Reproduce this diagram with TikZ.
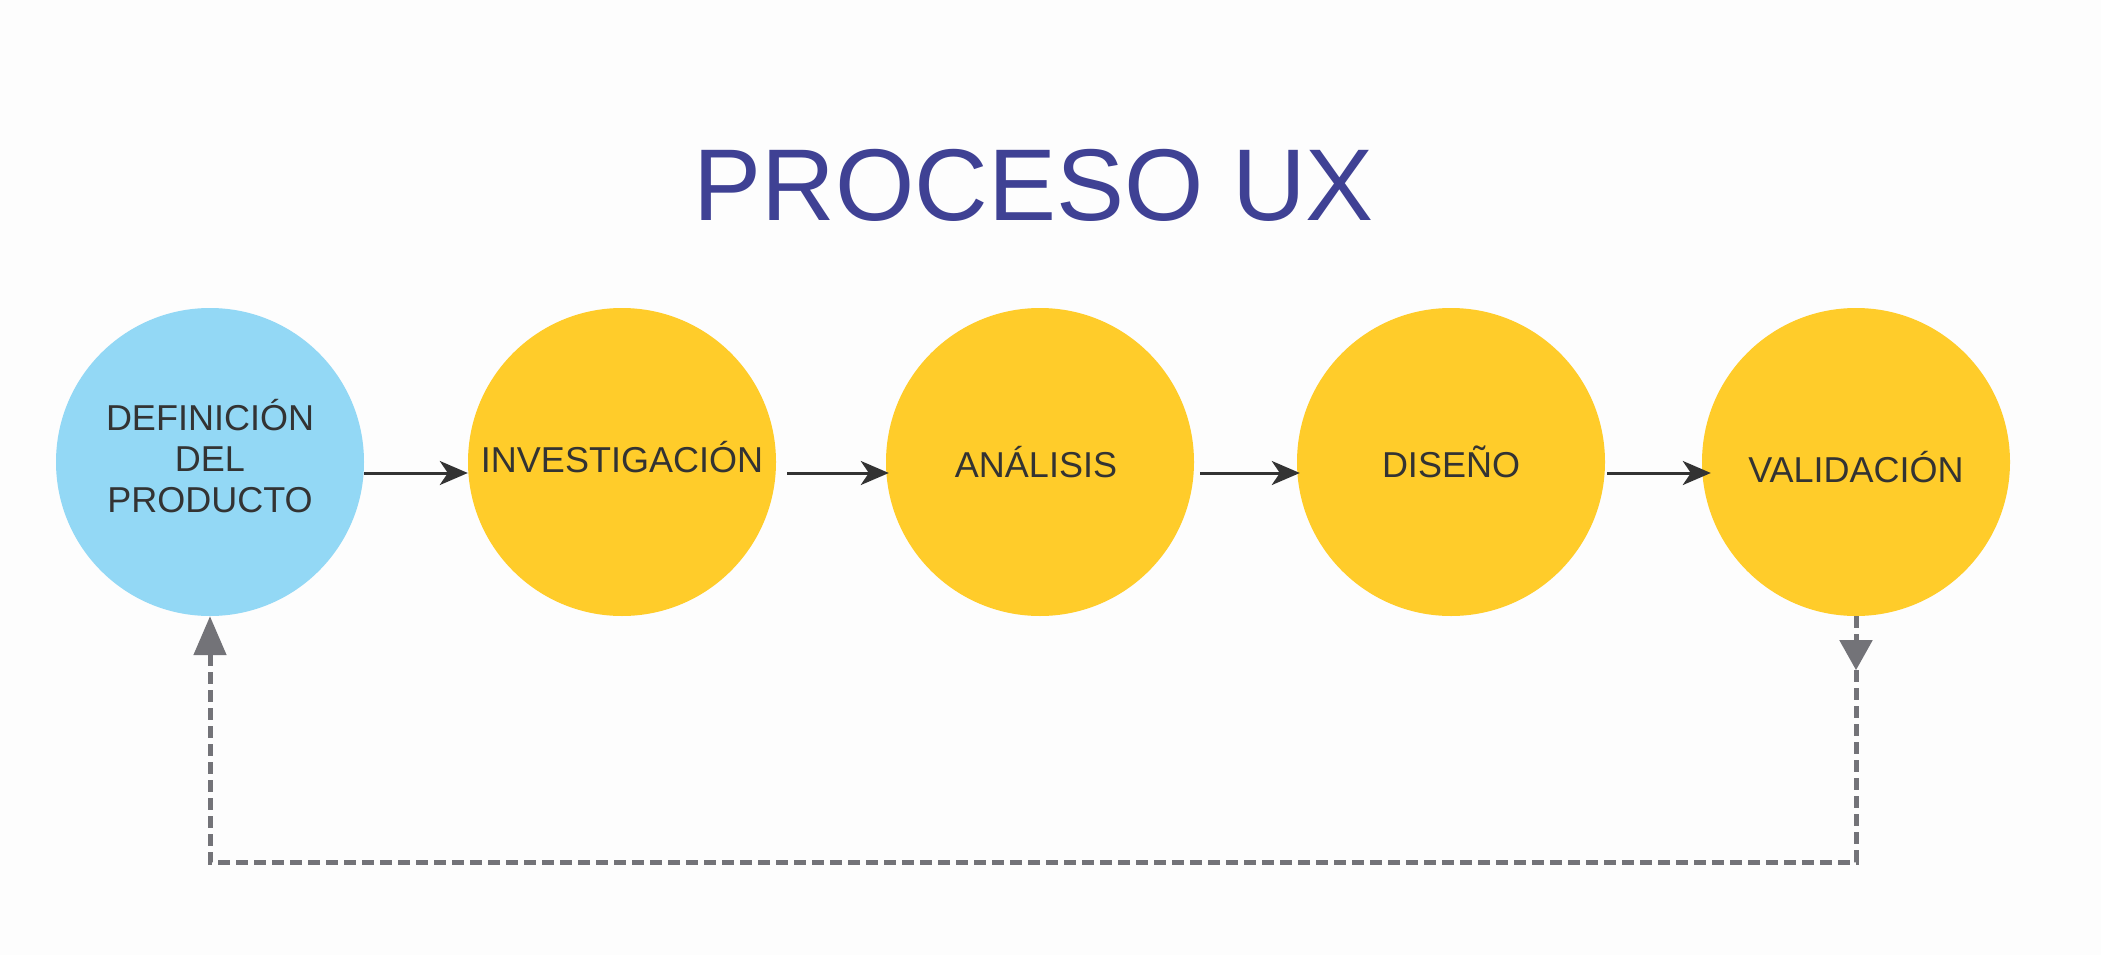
\documentclass[tikz,border=0pt]{standalone}
\usepackage{fontspec}
\setmainfont{Liberation Sans}
\usetikzlibrary{arrows.meta,decorations.markings}
\definecolor{bluec}{HTML}{93D8F5}
\definecolor{yellowc}{HTML}{FFCC2A}
\definecolor{txtc}{HTML}{333333}
\definecolor{grayc}{HTML}{737378}
\definecolor{titlec}{HTML}{3F4194}
\definecolor{bgc}{HTML}{FDFDFD}
\begin{document}
\begin{tikzpicture}[x=1pt,y=-1pt,
  stage/.style={circle, minimum size=308pt, inner sep=0pt, draw=none},
  lbl/.style={text=txtc, font=\fontsize{36}{41}\selectfont, anchor=base, inner sep=0pt},
  flow/.style={draw=txtc, line width=3pt, -{Stealth[length=28pt,width=24pt,inset=8pt]}},
  back/.style={draw=grayc, line width=5pt, dash pattern=on 12pt off 6pt,
    -{Triangle[length=39pt,width=32pt]},
    decoration={markings, mark=at position 54pt with {\arrow{Triangle[length=30pt,width=32pt]}}},
    postaction={decorate}}
]
\useasboundingbox (0,0) rectangle (2101,955);
\fill[bgc] (0,0) rectangle (2101,955);

\node[text=titlec, font=\fontsize{102}{120}\selectfont, anchor=base, inner sep=0pt] (title) at (1034,220) {PROCESO UX};

\node[stage, fill=bluec]   (c1) at (210,462) {};
\node[stage, fill=yellowc] (c2) at (622,462) {};
\node[stage, fill=yellowc] (c3) at (1040,462) {};
\node[stage, fill=yellowc] (c4) at (1451,462) {};
\node[stage, fill=yellowc] (c5) at (1856,462) {};

\node[lbl, align=center] (t1) at ([yshift=-50pt]c1.center) {DEFINICIÓN\\DEL\\PRODUCTO};
\node[lbl] (t2) at ([yshift=-10pt]c2.center) {INVESTIGACIÓN};
\node[lbl] (t3) at ([xshift=-4pt,yshift=-15pt]c3.center) {ANÁLISIS};
\node[lbl] (t4) at ([yshift=-15pt]c4.center) {DISEÑO};
\node[lbl] (t5) at ([yshift=-20pt]c5.center) {VALIDACIÓN};

\draw[flow] ([yshift=-11pt]c1.east) -- ([yshift=-11pt]c2.west);
\draw[flow] ([xshift=11pt,yshift=-11pt]c2.east) -- ([xshift=3pt,yshift=-11pt]c3.west);
\draw[flow] ([xshift=6pt,yshift=-11pt]c3.east) -- ([xshift=3pt,yshift=-11pt]c4.west);
\draw[flow] ([xshift=2pt,yshift=-11pt]c4.east) -- ([xshift=9pt,yshift=-11pt]c5.west);

\coordinate (br) at (1856,862);
\coordinate (bl) at (210,862);
\draw[back] (c5.south) -- (br) -- (bl) -- (c1.south);
\end{tikzpicture}
\end{document}
